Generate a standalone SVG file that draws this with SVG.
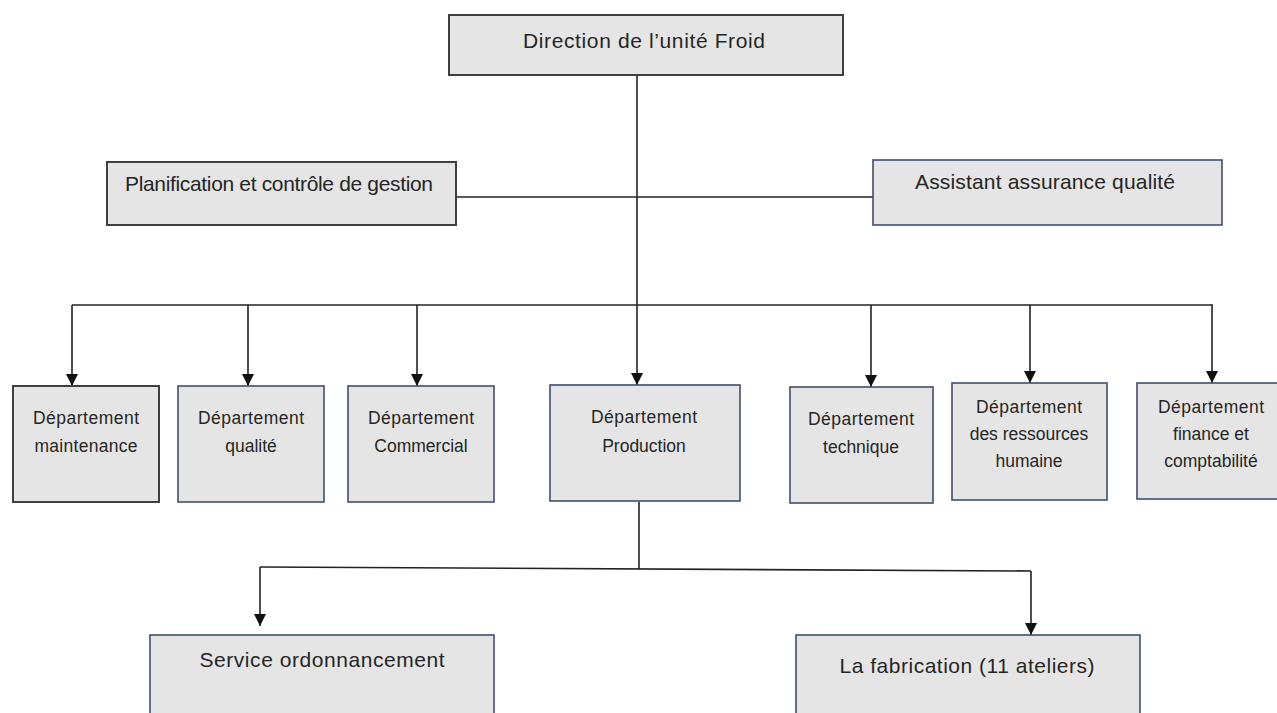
<svg xmlns="http://www.w3.org/2000/svg" width="1277" height="713" viewBox="0 0 1277 713">
<style>
.box{fill:#e5e5e5;stroke:#3f3f3f;stroke-width:2}
.nbox{fill:#e5e5e5;stroke:#3f4f6e;stroke-width:1.6}
text{font-family:"Liberation Sans",Arial,sans-serif;fill:#262626;text-anchor:middle}
.big{font-size:21px}
.dep{font-size:17.5px}
.ln{stroke:#222;stroke-width:1.6;fill:none}
</style>
<defs>
<marker id="arr" markerWidth="12" markerHeight="12" refX="12" refY="6" orient="auto" markerUnits="userSpaceOnUse">
<path d="M0,0 L12,6 L0,12 Z" fill="#111"/>
</marker>
</defs>
<rect width="1277" height="713" fill="#fff"/>
<g id="connectors">
<line class="ln" x1="637" y1="75" x2="637" y2="385" marker-end="url(#arr)"/>
<line class="ln" x1="456" y1="197" x2="873" y2="197"/>
<line class="ln" x1="72" y1="305" x2="1213" y2="305"/>
<line class="ln" x1="72" y1="305" x2="72" y2="386" marker-end="url(#arr)"/>
<line class="ln" x1="248" y1="305" x2="248" y2="386" marker-end="url(#arr)"/>
<line class="ln" x1="417" y1="305" x2="417" y2="386" marker-end="url(#arr)"/>
<line class="ln" x1="871" y1="305" x2="871" y2="387" marker-end="url(#arr)"/>
<line class="ln" x1="1030" y1="305" x2="1030" y2="383" marker-end="url(#arr)"/>
<line class="ln" x1="1212" y1="305" x2="1212" y2="383" marker-end="url(#arr)"/>
<line class="ln" x1="639" y1="502" x2="639" y2="569"/>
<line class="ln" x1="260" y1="567" x2="1031" y2="571"/>
<line class="ln" x1="260" y1="567" x2="260" y2="626" marker-end="url(#arr)"/>
<line class="ln" x1="1031" y1="571" x2="1031" y2="635" marker-end="url(#arr)"/>
</g>
<g id="direction">
<rect class="box" x="449" y="15" width="394" height="60"/>
<text class="big" x="644" y="48" textLength="242">Direction de l’unité Froid</text>
</g>
<g id="planification">
<rect class="box" x="107" y="162" width="349" height="63"/>
<text class="big" x="279" y="191" textLength="308">Planification et contrôle de gestion</text>
</g>
<g id="assistant">
<rect class="nbox" x="873" y="160" width="349" height="65"/>
<text class="big" x="1045" y="189" textLength="260">Assistant assurance qualité</text>
</g>
<g id="dep-maintenance">
<rect class="box" x="13" y="386" width="146" height="116"/>
<text class="dep" x="86" y="424" textLength="106">Département</text>
<text class="dep" x="86" y="452" textLength="103">maintenance</text>
</g>
<g id="dep-qualite">
<rect class="nbox" x="178" y="386" width="146" height="116"/>
<text class="dep" x="251" y="424" textLength="106">Département</text>
<text class="dep" x="251" y="452">qualité</text>
</g>
<g id="dep-commercial">
<rect class="nbox" x="348" y="386" width="146" height="116"/>
<text class="dep" x="421" y="424" textLength="106">Département</text>
<text class="dep" x="421" y="452">Commercial</text>
</g>
<g id="dep-production">
<rect class="nbox" x="550" y="385" width="190" height="116"/>
<text class="dep" x="644" y="423" textLength="106">Département</text>
<text class="dep" x="644" y="452">Production</text>
</g>
<g id="dep-technique">
<rect class="nbox" x="790" y="387" width="143" height="116"/>
<text class="dep" x="861" y="425" textLength="106">Département</text>
<text class="dep" x="861" y="453">technique</text>
</g>
<g id="dep-rh">
<rect class="nbox" x="952" y="383" width="155" height="117"/>
<text class="dep" x="1029" y="413" textLength="106">Département</text>
<text class="dep" x="1029" y="440">des ressources</text>
<text class="dep" x="1029" y="467">humaine</text>
</g>
<g id="dep-finance">
<rect class="nbox" x="1137" y="383" width="150" height="116"/>
<text class="dep" x="1211" y="413" textLength="106">Département</text>
<text class="dep" x="1211" y="440">finance et</text>
<text class="dep" x="1211" y="467">comptabilité</text>
</g>
<g id="service-ordonnancement">
<rect class="nbox" x="150" y="635" width="344" height="90"/>
<text class="big" x="322" y="667" textLength="245">Service ordonnancement</text>
</g>
<g id="fabrication">
<rect class="nbox" x="796" y="635" width="344" height="90"/>
<text class="big" x="967" y="673" textLength="255">La fabrication (11 ateliers)</text>
</g>
</svg>
